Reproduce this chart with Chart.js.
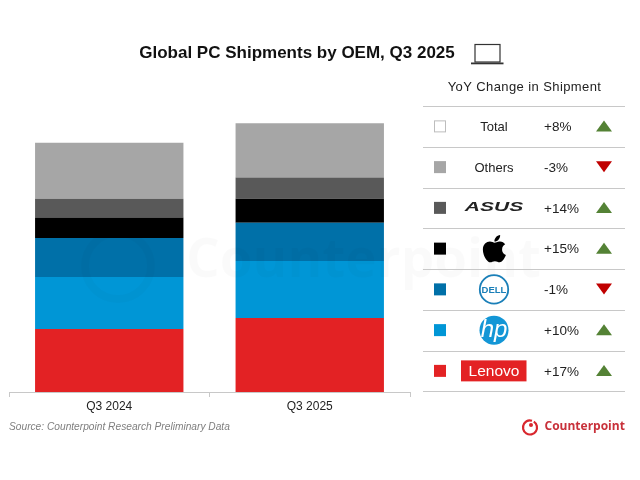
<!DOCTYPE html>
<html><head><meta charset="utf-8">
<style>html,body{margin:0;padding:0;background:#fff}#c{display:block}</style>
<script src="https://cdn.jsdelivr.net/npm/chart.js@4"></script>
</head><body><canvas id="c" width="640" height="480"></canvas>
<script>
const categories = ["Q3 2024", "Q3 2025"];
const lenovo = [63, 74];
const hp = [52, 57];
const dell = [39, 38.4];
const apple = [20.7, 24];
const asus = [18.7, 21.3];
const others = [56, 54.3];
const seriesNames = ["Lenovo", "HP", "Dell", "Apple", "ASUS", "Others"];
const seriesColors = ["#e32224", "#0096d6", "#0070a8", "#000000", "#595959", "#a6a6a6"];
const rowNames = ["Total", "Others", "ASUS", "Apple", "Dell", "HP", "Lenovo"];
const rowChanges = ["+8%", "-3%", "+14%", "+15%", "-1%", "+10%", "+17%"];
const FONT = '"Liberation Sans", Arial, sans-serif';
const APPLE = new Path2D("M318.7 268.7c-.2-36.7 16.4-64.4 50-84.8-18.8-26.9-47.2-41.7-84.7-44.6-35.5-2.8-74.3 20.7-88.5 20.7-15 0-49.4-19.7-76.4-19.7C63.3 141.2 4 184.8 4 273.5q0 39.3 14.4 81.2c12.8 36.7 59 126.7 107.2 125.2 25.2-.6 43-17.9 75.8-17.9 31.8 0 48.3 17.9 76.4 17.9 48.6-.7 90.4-82.5 102.6-119.3-65.2-30.7-61.7-90-61.7-91.9zm-56.6-164.2c27.3-32.4 24.8-61.9 24-72.5-24.1 1.4-52 16.4-67.9 34.9-17.5 19.8-27.8 44.3-25.6 71.9 26.1 2 49.9-11.4 69.5-34.3z");

function text(ctx, s, x, y, font, color, align, spacing) {
  ctx.save();
  ctx.font = font; ctx.fillStyle = color; ctx.textAlign = align || "left"; ctx.textBaseline = "middle";
  if (spacing) ctx.letterSpacing = spacing;
  ctx.fillText(s, x, y);
  ctx.restore();
}
function drawLogo(ctx, name, cx, cy) {
  ctx.save();
  if (name === "ASUS") {
    ctx.translate(cx, cy); ctx.scale(1.5, 0.9);
    text(ctx, "ASUS", 0, 0, 'italic bold 14px ' + FONT, "#222", "center");
  } else if (name === "Apple") {
    const s = 27.5 / 450;
    ctx.translate(cx - 186 * s, cy - 255 * s); ctx.scale(s, s);
    ctx.fillStyle = "#000"; ctx.fill(APPLE);
  } else if (name === "Dell") {
    ctx.strokeStyle = "#1a7fb8"; ctx.lineWidth = 1.8;
    ctx.beginPath(); ctx.arc(cx, cy, 14.2, 0, 2 * Math.PI); ctx.stroke();
    text(ctx, "DELL", cx, cy + .5, 'bold 9.5px ' + FONT, "#1a7fb8", "center");
  } else if (name === "HP") {
    ctx.fillStyle = "#1396d6";
    ctx.beginPath(); ctx.arc(cx, cy, 14.5, 0, 2 * Math.PI); ctx.fill();
    text(ctx, "hp", cx, cy, 'italic 24px ' + FONT, "#fff", "center");
  } else if (name === "Lenovo") {
    ctx.fillStyle = "#e32224"; ctx.fillRect(cx - 33, cy - 10.5, 65.5, 21);
    text(ctx, "Lenovo", cx, cy + 1, '15.5px ' + FONT, "#fff", "center");
  }
  ctx.restore();
}
const panel = {
  id: "panel",
  afterLayout(chart) {
    chart.titleBlock.left = 0; chart.titleBlock.right = 594;
  },
  afterDatasetsDraw(chart) {
    const ctx = chart.ctx;
    // faint watermark
    ctx.save();
    ctx.strokeStyle = "rgba(0,0,0,0.018)"; ctx.lineWidth = 8;
    ctx.beginPath(); ctx.arc(118, 266, 33, 0, 2 * Math.PI); ctx.stroke();
    text(ctx, "Counterpoint", 186, 262, 'bold 53px "Open Sans", ' + FONT, "rgba(0,0,0,0.02)");
    ctx.restore();
  },
  afterDraw(chart) {
    const ctx = chart.ctx;
    text(ctx, "YoY Change in Shipment", 524.5, 87.5, '13px ' + FONT, "#222", "center", "0.4px");
    const top = 106, rh = 40.75;
    ctx.strokeStyle = "#c8c8c8"; ctx.lineWidth = 1;
    for (let i = 0; i <= rowNames.length; i++) {
      const y = Math.round(top + i * rh) + .5;
      ctx.beginPath(); ctx.moveTo(423, y); ctx.lineTo(625, y); ctx.stroke();
    }
    rowNames.forEach((name, i) => {
      const cy = top + (i + .5) * rh;
      const sx = 434, sy = cy - 6;
      const k = seriesNames.indexOf(name);
      if (k < 0) {
        ctx.fillStyle = "#fff"; ctx.strokeStyle = "#bdbdbd"; ctx.lineWidth = 1;
        ctx.fillRect(sx, sy, 11, 11); ctx.strokeRect(sx + .5, sy + .5, 11, 11);
      } else {
        ctx.fillStyle = seriesColors[k]; ctx.fillRect(sx, sy, 12, 12);
      }
      if (name === "Total" || name === "Others") {
        text(ctx, name, 494, cy + 1, '13px ' + FONT, "#222", "center");
      } else {
        drawLogo(ctx, name, 494, cy);
      }
      const ch = rowChanges[i];
      text(ctx, ch, 544, cy + 1, '13.5px ' + FONT, "#222");
      const up = ch[0] === "+";
      ctx.fillStyle = up ? "#548235" : "#c00000";
      ctx.beginPath();
      if (up) { ctx.moveTo(604, cy - 6); ctx.lineTo(612, cy + 5); ctx.lineTo(596, cy + 5); }
      else { ctx.moveTo(596, cy - 6); ctx.lineTo(612, cy - 6); ctx.lineTo(604, cy + 5); }
      ctx.closePath(); ctx.fill();
    });
    // laptop icon
    ctx.strokeStyle = "#333"; ctx.lineWidth = 1.2;
    ctx.strokeRect(475, 44.5, 25, 17.5);
    ctx.fillStyle = "#333"; ctx.fillRect(471, 62.5, 32.5, 1.8);
    // source and brand
    text(ctx, "Source: Counterpoint Research Preliminary Data", 9, 427.5, 'italic 10.2px ' + FONT, "#7f7f7f");
    ctx.strokeStyle = "#d9272e"; ctx.lineWidth = 2.2;
    ctx.beginPath(); ctx.arc(530, 427.5, 7, -1.0, 5.0); ctx.stroke();
    ctx.fillStyle = "#d9272e"; ctx.beginPath(); ctx.arc(531, 425, 2, 0, 2 * Math.PI); ctx.fill();
    text(ctx, "Counterpoint", 544.5, 427, 'bold 12px "Open Sans", ' + FONT, "#c8313a");
  }
};
const rawSeries = [lenovo, hp, dell, apple, asus, others];
new Chart(document.getElementById("c"), {
  type: "bar",
  data: {
    labels: categories,
    datasets: seriesNames.map((n, i) => ({
      label: n, data: rawSeries[i], backgroundColor: seriesColors[i], borderWidth: 0,
      categoryPercentage: 1, barPercentage: 0.74
    }))
  },
  options: {
    responsive: false, animation: false,
    layout: { padding: { left: 9, right: 230, top: 0, bottom: 0 } },
    plugins: {
      legend: { display: false }, tooltip: { enabled: false },
      title: {
        display: true, text: "Global PC Shipments by OEM, Q3 2025",
        color: "#111", font: { family: FONT, size: 17, weight: "bold" },
        padding: { top: 43, bottom: 28.8 }
      }
    },
    scales: {
      x: {
        stacked: true,
        afterFit(s) { s.height = 88; },
        border: { color: "#c8c8c8" },
        grid: { drawOnChartArea: false, color: "#c8c8c8", tickLength: 5 },
        ticks: { color: "#222", font: { family: FONT, size: 12 }, padding: 2, maxRotation: 0 }
      },
      y: { stacked: true, display: false, min: 0, max: 300 }
    }
  },
  plugins: [panel]
});
</script></body></html>
